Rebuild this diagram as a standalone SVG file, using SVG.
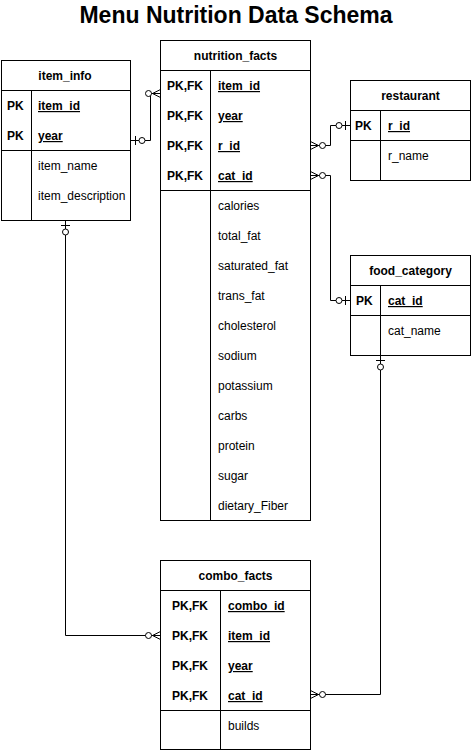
<svg xmlns="http://www.w3.org/2000/svg" width="472" height="751" viewBox="0 0 472 751">
  <style>
    text { font-family: "Liberation Sans", Arial, Helvetica, sans-serif; font-size: 12px; fill: #000; }
    .title { font-size: 23px; font-weight: bold; text-anchor: middle; }
    .hdr { font-weight: bold; text-anchor: middle; }
    .k { font-weight: bold; }
    .key { font-weight: bold; text-decoration: underline; }
    .box { fill: #fff; stroke: #000; stroke-width: 1; }
    .ln { fill: none; stroke: #000; stroke-width: 1; }
    .conn path { fill: none; stroke: #000; stroke-width: 1; }
  </style>
  <defs>
    <!-- zero-or-many: circle then crow's foot opening toward the table -->
    <marker id="zeroMany" markerUnits="userSpaceOnUse" orient="auto-start-reverse" refX="0" refY="0" markerWidth="20" markerHeight="12" overflow="visible">
      <path d="M-8,0 L0,-4 M-8,0 L0,4 M-8,0 H0" fill="none" stroke="#000" stroke-width="1"/>
      <circle cx="-12" cy="0" r="3" fill="#fff" stroke="#000" stroke-width="1"/>
    </marker>
    <!-- zero-or-one: circle then bar next to the table -->
    <marker id="zeroOne" markerUnits="userSpaceOnUse" orient="auto-start-reverse" refX="0" refY="0" markerWidth="20" markerHeight="12" overflow="visible">
      <path d="M-5,-4.5 V4.5" fill="none" stroke="#000" stroke-width="1"/>
      <circle cx="-11.5" cy="0" r="3" fill="#fff" stroke="#000" stroke-width="1"/>
    </marker>
  </defs>

  <rect width="472" height="751" fill="#fff"/>
  <text class="title" x="236" y="23">Menu Nutrition Data Schema</text>

  <!-- relationships -->
  <g id="connectors" class="conn">
    <path d="M130.5,140.5 H150.5 V93.5 H160.5" marker-start="url(#zeroOne)" marker-end="url(#zeroMany)"/>
    <path d="M310.5,145.5 H330.5 V125.5 H350.5" marker-start="url(#zeroMany)" marker-end="url(#zeroOne)"/>
    <path d="M310.5,175.5 H330.5 V300.5 H350.5" marker-start="url(#zeroMany)" marker-end="url(#zeroOne)"/>
    <path d="M380.5,355.5 V694.5 H310.5" marker-start="url(#zeroOne)" marker-end="url(#zeroMany)"/>
    <path d="M65.5,220.5 V635.5 H160.5" marker-start="url(#zeroOne)" marker-end="url(#zeroMany)"/>
  </g>

  <!-- item_info -->
  <g id="item_info">
    <rect class="box" x="1.5" y="60.5" width="129" height="160"/>
    <path class="ln" d="M1.5,90.5 H130.5 M1.5,150.5 H130.5 M31.5,90.5 V220.5"/>
    <text class="hdr" x="65" y="80">item_info</text>
    <text class="k" x="7" y="110">PK</text>
    <text class="key" x="38" y="110">item_id</text>
    <text class="k" x="7" y="140">PK</text>
    <text class="key" x="38" y="140">year</text>
    <text x="38" y="170">item_name</text>
    <text x="38" y="200">item_description</text>
  </g>

  <!-- nutrition_facts -->
  <g id="nutrition_facts">
    <rect class="box" x="160.5" y="40.5" width="150" height="480"/>
    <path class="ln" d="M160.5,70.5 H310.5 M160.5,190.5 H310.5 M210.5,70.5 V520.5"/>
    <text class="hdr" x="235.5" y="60">nutrition_facts</text>
    <text class="k" x="167" y="90">PK,FK</text>
    <text class="key" x="218" y="90">item_id</text>
    <text class="k" x="167" y="120">PK,FK</text>
    <text class="key" x="218" y="120">year</text>
    <text class="k" x="167" y="150">PK,FK</text>
    <text class="key" x="218" y="150">r_id</text>
    <text class="k" x="167" y="180">PK,FK</text>
    <text class="key" x="218" y="180">cat_id</text>
    <text x="218" y="210">calories</text>
    <text x="218" y="240">total_fat</text>
    <text x="218" y="270">saturated_fat</text>
    <text x="218" y="300">trans_fat</text>
    <text x="218" y="330">cholesterol</text>
    <text x="218" y="360">sodium</text>
    <text x="218" y="390">potassium</text>
    <text x="218" y="420">carbs</text>
    <text x="218" y="450">protein</text>
    <text x="218" y="480">sugar</text>
    <text x="218" y="510">dietary_Fiber</text>
  </g>

  <!-- restaurant -->
  <g id="restaurant">
    <rect class="box" x="350.5" y="80.5" width="120" height="100"/>
    <path class="ln" d="M350.5,110.5 H470.5 M350.5,140.5 H470.5 M380.5,110.5 V180.5"/>
    <text class="hdr" x="410.5" y="100">restaurant</text>
    <text class="k" x="355" y="130">PK</text>
    <text class="key" x="388" y="130">r_id</text>
    <text x="388" y="160">r_name</text>
  </g>

  <!-- food_category -->
  <g id="food_category">
    <rect class="box" x="350.5" y="255.5" width="120" height="100"/>
    <path class="ln" d="M350.5,285.5 H470.5 M350.5,315.5 H470.5 M380.5,285.5 V355.5"/>
    <text class="hdr" x="410.5" y="275">food_category</text>
    <text class="k" x="356" y="305">PK</text>
    <text class="key" x="388" y="305">cat_id</text>
    <text x="388" y="335">cat_name</text>
  </g>

  <!-- combo_facts -->
  <g id="combo_facts">
    <rect class="box" x="160.5" y="560.5" width="150" height="189"/>
    <path class="ln" d="M160.5,590.5 H310.5 M160.5,710.5 H310.5 M220.5,590.5 V749.5"/>
    <text class="hdr" x="235.5" y="580">combo_facts</text>
    <text class="k" x="172" y="610">PK,FK</text>
    <text class="key" x="228" y="610">combo_id</text>
    <text class="k" x="172" y="640">PK,FK</text>
    <text class="key" x="228" y="640">item_id</text>
    <text class="k" x="172" y="670">PK,FK</text>
    <text class="key" x="228" y="670">year</text>
    <text class="k" x="172" y="700">PK,FK</text>
    <text class="key" x="228" y="700">cat_id</text>
    <text x="228" y="730">builds</text>
  </g>
</svg>
